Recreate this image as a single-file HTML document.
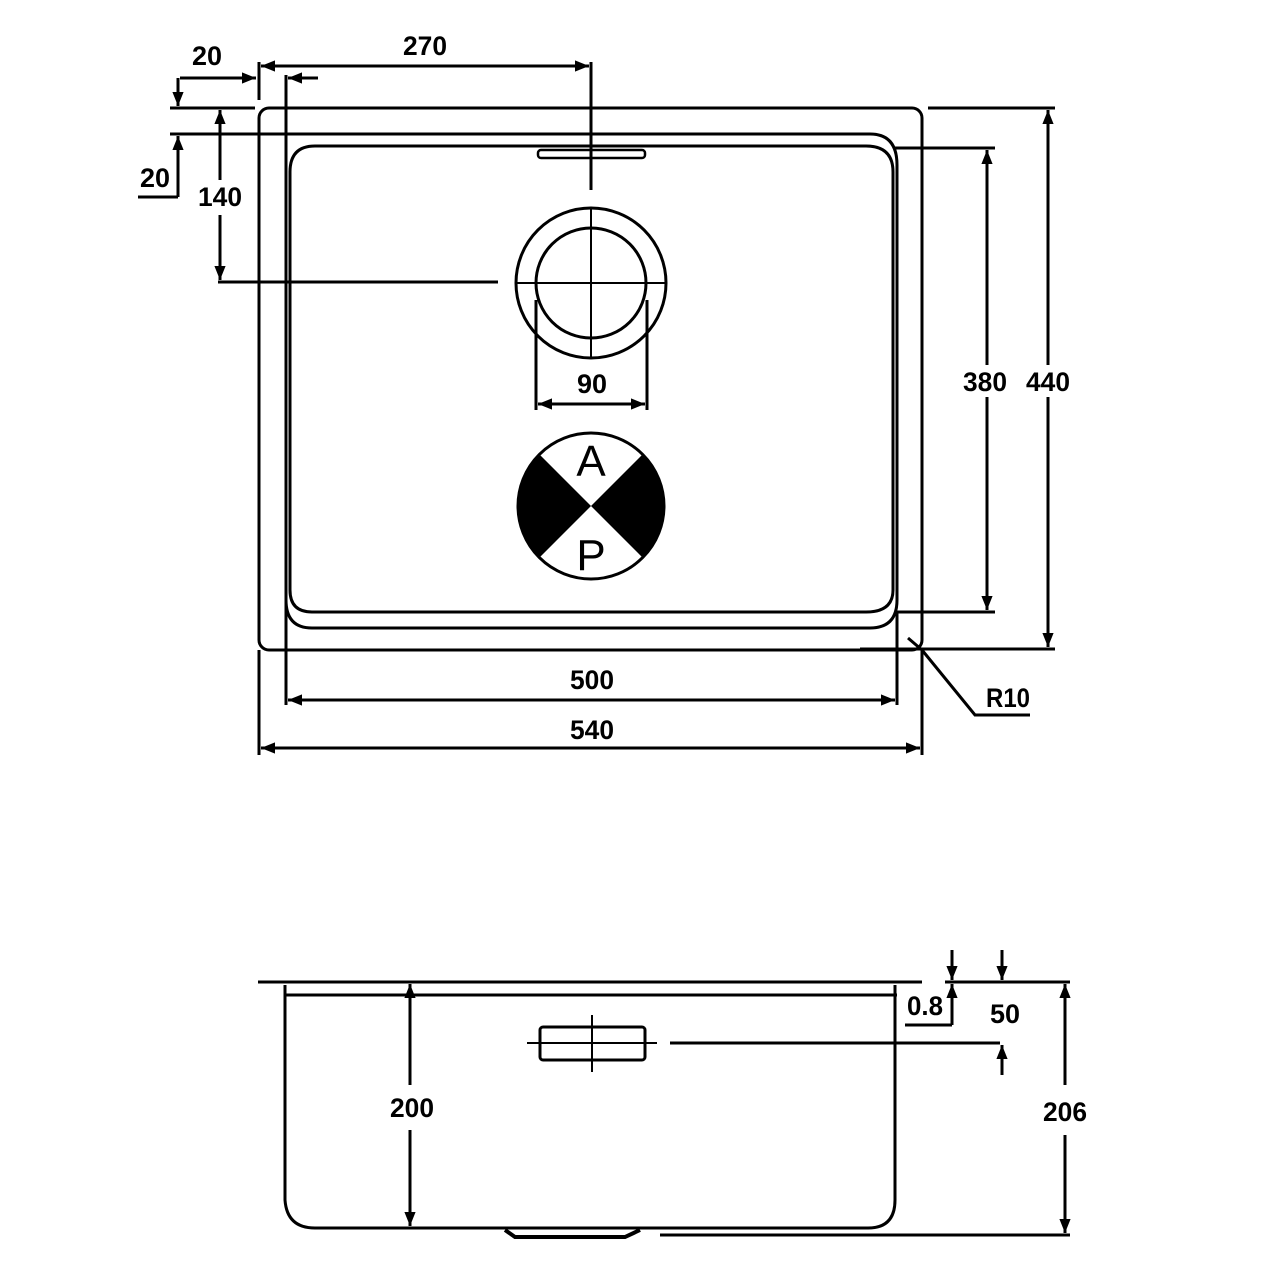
<!DOCTYPE html>
<html><head><meta charset="utf-8"><style>
html,body{margin:0;padding:0;background:#fff;}
svg{display:block}
text{font-family:"Liberation Sans",sans-serif;font-weight:bold;font-size:27px;fill:#000;}
</style></head><body>
<svg width="1280" height="1280" viewBox="0 0 1280 1280" xmlns="http://www.w3.org/2000/svg">
<defs>
<marker id="a" viewBox="0 0 10 10" refX="10" refY="5" markerWidth="16" markerHeight="14" markerUnits="userSpaceOnUse" orient="auto-start-reverse"><path d="M0,1 L10,5 L0,9 z" fill="#000"/></marker>
</defs>
<g fill="none" stroke="#000" stroke-width="3">
<rect x="259" y="108" width="663" height="542" rx="10"/>
<path d="M300,134 H870 Q897,134 897,165 V600 Q897,628 870,628 H312 Q286,628 286,600"/>
<path d="M315,146 H866 Q893,146 893,172 V590 Q893,612 866,612 H312 Q290,612 290,590 V172 Q290,146 315,146"/>
<line x1="286" y1="75" x2="286" y2="705"/>
<line x1="259" y1="62" x2="259" y2="100"/>
<line x1="259" y1="650" x2="259" y2="755"/>
<line x1="922" y1="650" x2="922" y2="755"/>
<line x1="897" y1="612" x2="897" y2="705"/>
<rect x="538" y="150" width="107" height="8" rx="3" stroke-width="2.5"/>
<circle cx="591" cy="283" r="75"/>
<circle cx="591" cy="283" r="55"/>
<line x1="591" y1="62" x2="591" y2="190"/>
<line x1="591" y1="208" x2="591" y2="358" stroke-width="2"/>
<line x1="516" y1="283" x2="666" y2="283" stroke-width="2"/>
<line x1="536" y1="300" x2="536" y2="410"/>
<line x1="647" y1="300" x2="647" y2="410"/>
<line x1="538" y1="404" x2="645" y2="404" marker-start="url(#a)" marker-end="url(#a)"/>
<line x1="261" y1="66" x2="589" y2="66" marker-start="url(#a)" marker-end="url(#a)"/>
<line x1="180" y1="78" x2="256" y2="78" marker-end="url(#a)"/>
<line x1="318" y1="78" x2="288" y2="78" marker-end="url(#a)"/>
<line x1="170" y1="108" x2="255" y2="108"/>
<line x1="170" y1="134" x2="300" y2="134"/>
<line x1="178" y1="78" x2="178" y2="106" marker-end="url(#a)"/>
<line x1="178" y1="197" x2="178" y2="136" marker-end="url(#a)"/>
<line x1="178" y1="197" x2="138" y2="197"/>
<line x1="220" y1="110" x2="220" y2="180" marker-start="url(#a)"/>
<line x1="220" y1="215" x2="220" y2="280" marker-end="url(#a)"/>
<line x1="218" y1="282" x2="498" y2="282"/>
<line x1="893" y1="148" x2="995" y2="148"/>
<line x1="897" y1="612" x2="995" y2="612"/>
<line x1="987" y1="150" x2="987" y2="610" marker-start="url(#a)" marker-end="url(#a)"/>
<line x1="928" y1="108" x2="1055" y2="108"/>
<line x1="860" y1="649" x2="1055" y2="649"/>
<line x1="1048" y1="110" x2="1048" y2="647" marker-start="url(#a)" marker-end="url(#a)"/>
<line x1="288" y1="700" x2="895" y2="700" marker-start="url(#a)" marker-end="url(#a)"/>
<line x1="261" y1="748" x2="920" y2="748" marker-start="url(#a)" marker-end="url(#a)"/>
<line x1="908" y1="638" x2="922" y2="650"/>
<polyline points="922,650 975,715 1030,715"/>
<line x1="258" y1="982" x2="922" y2="982"/>
<line x1="945" y1="982" x2="1070" y2="982"/>
<line x1="285" y1="995" x2="897" y2="995"/>
<path d="M285,985 V1200 Q287,1228 315,1228 H868 Q895,1228 895,1200 V985"/>
<path d="M505,1230 L515,1237 H625 L640,1230" stroke-width="4"/>
<line x1="660" y1="1235" x2="1070" y2="1235"/>
<rect x="540" y="1027" width="105" height="33" rx="3"/>
<line x1="527" y1="1043" x2="657" y2="1043" stroke-width="2"/>
<line x1="592" y1="1015" x2="592" y2="1072" stroke-width="2"/>
<line x1="670" y1="1043" x2="1000" y2="1043"/>
<line x1="410" y1="984" x2="410" y2="1085" marker-start="url(#a)"/>
<line x1="410" y1="1130" x2="410" y2="1226" marker-end="url(#a)"/>
<line x1="1065" y1="984" x2="1065" y2="1085" marker-start="url(#a)"/>
<line x1="1065" y1="1135" x2="1065" y2="1233" marker-end="url(#a)"/>
<line x1="952" y1="950" x2="952" y2="980" marker-end="url(#a)"/>
<line x1="952" y1="1025" x2="952" y2="984" marker-end="url(#a)"/>
<line x1="952" y1="1025" x2="905" y2="1025"/>
<line x1="1002" y1="950" x2="1002" y2="980" marker-end="url(#a)"/>
<line x1="1002" y1="1075" x2="1002" y2="1045" marker-end="url(#a)"/>
</g>
<g>
<circle cx="591" cy="506" r="73" fill="#fff" stroke="#000" stroke-width="3"/>
<path d="M591,506 L539.4,454.4 A73,73 0 0 0 539.4,557.6 Z" fill="#000"/>
<path d="M591,506 L642.6,454.4 A73,73 0 0 1 642.6,557.6 Z" fill="#000"/>
<text x="591" y="476" text-anchor="middle" style="font-weight:normal;font-size:44px">A</text>
<text x="591" y="570" text-anchor="middle" style="font-weight:normal;font-size:44px">P</text>
</g>
<g text-anchor="middle">
<text x="425" y="55" textLength="44" lengthAdjust="spacingAndGlyphs">270</text>
<text x="207" y="65" textLength="30" lengthAdjust="spacingAndGlyphs">20</text>
<text x="155" y="187" textLength="30" lengthAdjust="spacingAndGlyphs">20</text>
<text x="220" y="206" textLength="44" lengthAdjust="spacingAndGlyphs">140</text>
<text x="592" y="393" textLength="30" lengthAdjust="spacingAndGlyphs">90</text>
<rect x="960" y="365" width="52" height="32" fill="#fff"/>
<text x="985" y="391" textLength="44" lengthAdjust="spacingAndGlyphs">380</text>
<rect x="1022" y="365" width="52" height="32" fill="#fff"/>
<text x="1048" y="391" textLength="44" lengthAdjust="spacingAndGlyphs">440</text>
<text x="592" y="689" textLength="44" lengthAdjust="spacingAndGlyphs">500</text>
<text x="592" y="739" textLength="44" lengthAdjust="spacingAndGlyphs">540</text>
<text x="1008" y="707" textLength="44" lengthAdjust="spacingAndGlyphs">R10</text>
<text x="412" y="1117" textLength="44" lengthAdjust="spacingAndGlyphs">200</text>
<text x="1065" y="1121" textLength="44" lengthAdjust="spacingAndGlyphs">206</text>
<text x="925" y="1015" textLength="36" lengthAdjust="spacingAndGlyphs">0.8</text>
<text x="1005" y="1023" textLength="30" lengthAdjust="spacingAndGlyphs">50</text>
</g>
</svg>
</body></html>
